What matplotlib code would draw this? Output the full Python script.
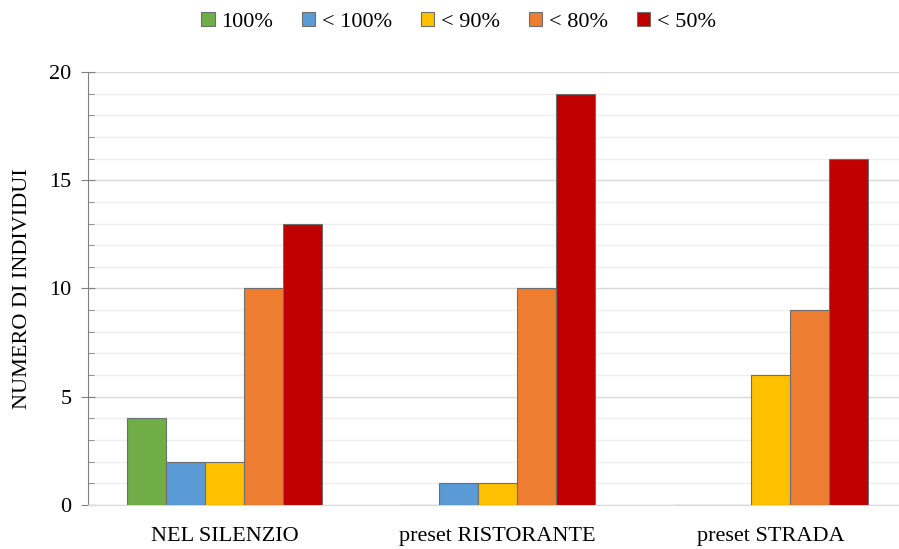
import numpy as np
import matplotlib
matplotlib.use('Agg')
import matplotlib.pyplot as plt
from matplotlib.ticker import MultipleLocator

# Dati del grafico
gruppi = ['NEL SILENZIO', 'preset RISTORANTE', 'preset STRADA']
serie = ['100%', '< 100%', '< 90%', '< 80%', '< 50%']
val_100 = [4, 0, 0]
val_lt100 = [2, 1, 0]
val_lt90 = [2, 1, 6]
val_lt80 = [10, 10, 9]
val_lt50 = [13, 19, 16]
colori = ['#70AD47', '#5B9BD5', '#FFC000', '#ED7D31', '#C00000']

plt.rcParams['font.family'] = ['Liberation Serif', 'DejaVu Serif']

fig = plt.figure(figsize=(8.99, 5.49), dpi=100)
ax = fig.add_axes([0.0979, 0.0801, 0.9021, 0.7888])

x = np.arange(len(gruppi))
larghezza = 0.143
valori = [val_100, val_lt100, val_lt90, val_lt80, val_lt50]
for i, (nome, v) in enumerate(zip(serie, valori)):
    ax.bar(x + (i - 2) * larghezza, v, larghezza, color=colori[i],
           edgecolor='#6e6e6e', linewidth=0.8, label=nome, zorder=3)

ax.set_xlim(-0.5, 2.471)
ax.set_ylim(0, 20)
ax.yaxis.set_major_locator(MultipleLocator(5))
ax.yaxis.set_minor_locator(MultipleLocator(1))
ax.grid(which='major', axis='y', color='#d9d9d9', linewidth=1.0, zorder=0)
ax.grid(which='minor', axis='y', color='#eeeeee', linewidth=1.0, zorder=0)

ax.set_xticks(x)
ax.set_xticklabels(gruppi, fontsize=16)
ax.tick_params(axis='x', length=0, pad=16)
ax.tick_params(axis='y', which='major', direction='inout', length=10,
               color='#808080', labelsize=16, pad=7)
ax.tick_params(axis='y', which='minor', direction='in', length=4, color='#808080')

for lato in ['top', 'right']:
    ax.spines[lato].set_visible(False)
ax.spines['left'].set_color('#808080')
ax.spines['bottom'].set_color('#d9d9d9')

ax.set_ylabel('NUMERO DI INDIVIDUI', fontsize=16, labelpad=12)

fig.legend(loc='upper center', bbox_to_anchor=(0.51, 1.015), ncol=5, frameon=False,
           fontsize=16, handlelength=0.6, handleheight=0.6, handletextpad=0.3,
           columnspacing=1.3)

fig.savefig('out.png', dpi=100)
